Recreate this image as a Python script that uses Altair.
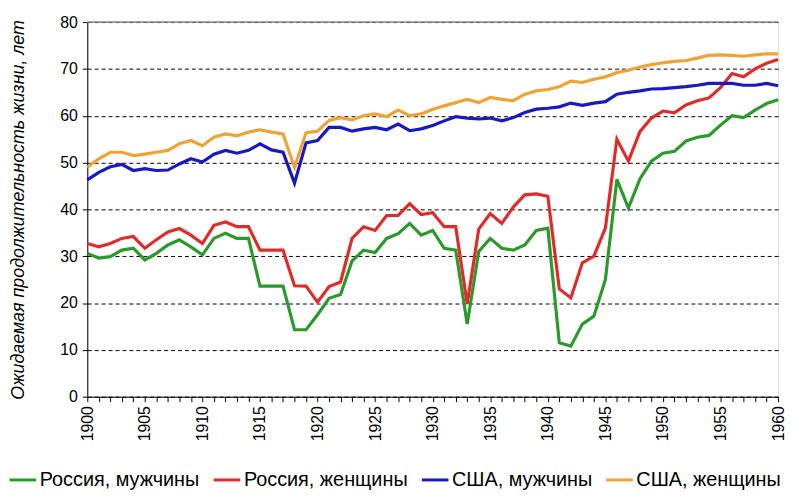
import altair as alt
import pandas as pd

years = list(range(1900, 1961))

russia_men = [30.6, 29.6, 29.9, 31.3, 31.7, 29.2, 30.6, 32.4, 33.5, 32.0,
              30.3, 33.8, 34.9, 33.8, 33.8, 23.6, 23.6, 23.6, 14.3, 14.3,
              17.5, 21.0, 21.8, 29.0, 31.3, 30.8, 33.8, 34.8, 37.0, 34.5,
              35.5, 31.7, 31.3, 15.5, 31.0, 33.8, 31.7, 31.3, 32.4, 35.5,
              36.0, 11.5, 10.8, 15.5, 17.2, 25.0, 46.4, 40.3, 46.5, 50.3,
              52.0, 52.4, 54.6, 55.4, 55.8, 58.0, 60.0, 59.6, 61.2, 62.6,
              63.4]
russia_women = [32.7, 32.0, 32.7, 33.8, 34.2, 31.7, 33.5, 35.2, 35.9, 34.5,
                32.7, 36.6, 37.3, 36.3, 36.3, 31.3, 31.3, 31.3, 23.7, 23.6,
                20.2, 23.5, 24.5, 33.8, 36.3, 35.5, 38.7, 38.7, 41.2, 38.9,
                39.3, 36.3, 36.3, 19.8, 35.8, 39.1, 37.0, 40.5, 43.1, 43.3,
                42.8, 23.0, 21.1, 28.6, 30.0, 36.0, 55.0, 50.3, 56.6, 59.5,
                61.0, 60.6, 62.3, 63.2, 63.8, 66.0, 69.0, 68.3, 70.0, 71.2,
                72.0]
usa_men = [46.3, 47.9, 49.1, 49.6, 48.3, 48.7, 48.3, 48.4, 49.7, 50.8,
           50.1, 51.8, 52.6, 52.0, 52.6, 54.0, 52.7, 52.2, 45.6, 54.2,
           54.7, 57.5, 57.5, 56.7, 57.2, 57.5, 57.0, 58.2, 56.8, 57.2,
           57.9, 58.9, 59.8, 59.5, 59.3, 59.5, 58.9, 59.6, 60.7, 61.4,
           61.6, 61.9, 62.7, 62.2, 62.7, 63.0, 64.6, 65.0, 65.3, 65.7,
           65.8, 66.0, 66.2, 66.5, 66.9, 66.9, 66.9, 66.5, 66.5, 66.9,
           66.4]
usa_women = [49.0, 50.8, 52.2, 52.2, 51.5, 51.8, 52.2, 52.6, 54.0, 54.7,
             53.6, 55.4, 56.1, 55.7, 56.5, 57.0, 56.5, 56.1, 49.0, 56.4,
             56.7, 59.0, 59.6, 59.1, 60.0, 60.4, 59.8, 61.2, 60.0, 60.4,
             61.4, 62.1, 62.8, 63.5, 62.8, 63.9, 63.5, 63.2, 64.6, 65.3,
             65.6, 66.2, 67.4, 67.1, 67.8, 68.3, 69.2, 69.7, 70.4, 70.9,
             71.3, 71.6, 71.8, 72.3, 72.9, 73.0, 72.9, 72.7, 73.0, 73.2,
             73.2]

series_names = ["Россия, мужчины", "Россия, женщины", "США, мужчины", "США, женщины"]
series_colors = ["#2a9a2a", "#e22a2a", "#1818c4", "#f0a232"]
y_ticks = list(range(0, 81, 10))
y_title = "Ожидаемая продолжительность жизни, лет"

rows = []
for name, vals in zip(series_names, [russia_men, russia_women, usa_men, usa_women]):
    for yr, v in zip(years, vals):
        rows.append({"year": yr, "value": v, "series": name})
df = pd.DataFrame(rows)

FONT = "Liberation Sans"

x_enc = alt.X(
    "year:Q",
    scale=alt.Scale(domain=[1900, 1960], nice=False, zero=False),
    axis=alt.Axis(
        title=None,
        values=years,
        labelExpr="datum.value % 5 == 0 ? '' + datum.value : ''",
        labelAngle=270,
        labelOverlap=False,
        labelFlush=False,
        labelBound=False,
        grid=False,
        tickSize=5,
        tickColor="black",
        domainColor="black",
        labelColor="black",
        labelFontSize=16,
        labelFont=FONT,
        labelPadding=4,
    ),
)

y_enc = alt.Y(
    "value:Q",
    scale=alt.Scale(domain=[0, 80], nice=False),
    axis=alt.Axis(
        title=y_title,
        values=y_ticks,
        titleFontStyle="italic",
        titleFontWeight="normal",
        titleFontSize=18,
        titleFont=FONT,
        titleColor="black",
        titlePadding=33,
        grid=True,
        gridDash=[4, 3],
        gridColor="black",
        gridOpacity=1,
        gridWidth=1,
        tickSize=5,
        tickColor="black",
        domainColor="black",
        labelColor="black",
        labelFontSize=16,
        labelFont=FONT,
        labelPadding=5,
    ),
)

lines = alt.Chart(df).mark_line(strokeWidth=3.2).encode(
    x=x_enc,
    y=y_enc,
    color=alt.Color(
        "series:N",
        scale=alt.Scale(domain=series_names, range=series_colors),
        legend=alt.Legend(
            title=None,
            orient="none",
            legendX=-80,
            legendY=447,
            direction="horizontal",
            symbolType="stroke",
            symbolStrokeWidth=3,
            symbolSize=720,
            labelFontSize=20,
            labelFont=FONT,
            labelColor="black",
            labelLimit=0,
            columnPadding=7,
            labelOffset=2,
        ),
    ),
    detail="series:N",
)

top_rule = alt.Chart(pd.DataFrame({"v": [80]})).mark_rule(color="#8a8a8a", strokeWidth=1.5).encode(
    y=alt.Y("v:Q")
)

chart = alt.layer(lines, top_rule).properties(
    width=697,
    height=378,
    autosize=alt.AutoSizeParams(type="none"),
    padding={"left": 80, "top": 12, "right": 8, "bottom": 97},
    background="white",
).configure_view(stroke=None).configure(font=FONT)

chart.save("out.html", embed_options={"renderer": "svg", "actions": False})
